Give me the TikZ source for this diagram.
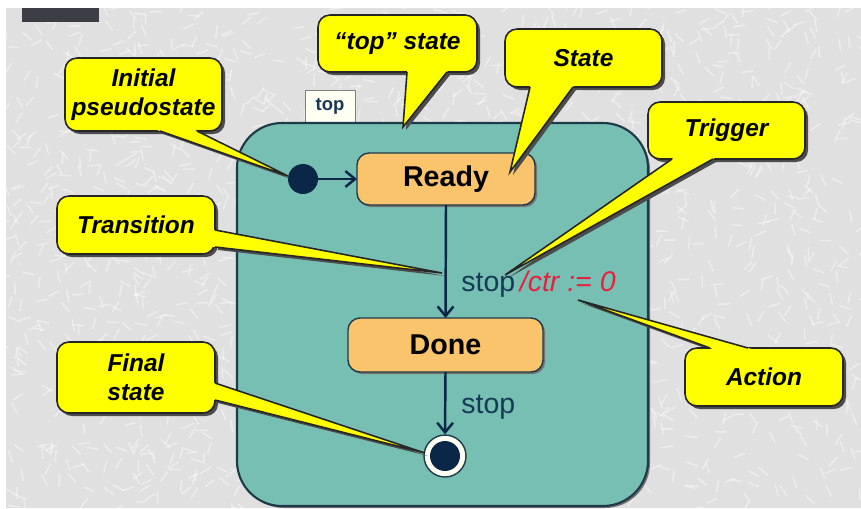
\documentclass[tikz,border=0pt]{standalone}
\usepackage{fontspec}
\setmainfont{Liberation Sans}
\usetikzlibrary{fit,calc,arrows.meta}
\definecolor{bggray}{HTML}{E0E0E0}
\definecolor{tealfill}{HTML}{77BFB3}
\definecolor{tealline}{HTML}{1E3A48}
\definecolor{statefill}{HTML}{FAC46C}
\definecolor{cyellow}{HTML}{FFFF00}
\definecolor{navy}{HTML}{0A2748}
\definecolor{actred}{HTML}{E8203C}
\definecolor{labc}{HTML}{163A55}
\definecolor{tabfill}{HTML}{FFFFF2}
\definecolor{darkbar}{HTML}{3C3D45}
\tikzset{
  cbox/.style={draw=black!85, line width=0.9pt, fill=cyellow, rounded corners=0.24cm, inner sep=0pt, outer sep=0pt},
  cshadow/.style={fill=black!70, rounded corners=0.24cm},
  cshadowtri/.style={fill=black!70},
  cfill/.style={fill=cyellow},
  cline/.style={draw=black!85, line width=0.9pt, line join=miter},
  ctext/.style={font=\fontsize{13.9}{16.4}\selectfont\bfseries\itshape, align=center, inner sep=0pt},
  statebox/.style={draw=tealline, line width=0.8pt, fill=statefill, rounded corners=0.24cm, inner sep=0pt, outer sep=0pt},
  statetext/.style={font=\fontsize{16.3}{19}\selectfont\bfseries, inner sep=0pt},
  trans/.style={draw=navy, line width=1.4pt, -{Straight Barb[length=5.5pt,width=9pt,line width=1.4pt]}},
  lbl/.style={font=\fontsize{16.2}{19}\selectfont, text=labc, inner sep=0pt, anchor=west},
}
% #1 name, #2 SW corner, #3 NE corner, #4 tip, #5 base1, #6 base2, #7 text
\newcommand{\mycallout}[7]{%
  \coordinate (#1sw) at #2; \coordinate (#1ne) at #3;
  \coordinate (#1tip) at #4; \coordinate (#1ba) at #5; \coordinate (#1bb) at #6;
  \fill[cshadowtri] ($(#1tip)+(3,3)$) -- ($(#1ba)+(3,3)$) -- ($(#1bb)+(3,3)$) -- cycle;
  \fill[cshadow] ($(#1sw)+(3,3)$) rectangle ($(#1ne)+(3,3)$);
  \node[cbox, fit=(#1sw)(#1ne)] (#1) {};
  \fill[cfill] (#1tip) -- ($(#1ba)!-4pt!(#1tip)$) -- ($(#1bb)!-4pt!(#1tip)$) -- cycle;
  \draw[cline] (#1ba) -- (#1tip) -- (#1bb);
  \node[ctext] (#1t) at (#1.center) {#7};
}
\begin{document}
\begin{tikzpicture}[x=0.02cm,y=-0.02cm]
\useasboundingbox (0,0) rectangle (861,508);
\fill[white] (0,0) rectangle (861,508);
\fill[bggray] (6,8) rectangle (861,508);
% texture
\pgfmathsetseed{7}
\begin{scope}
\clip (6,8) rectangle (861,508);
\foreach \i in {1,...,1800}{
  \pgfmathsetmacro{\xx}{6+rnd*855}
  \pgfmathsetmacro{\yy}{8+rnd*500}
  \pgfmathsetmacro{\aa}{rnd*360}
  \draw[white, opacity=0.45, line width=0.8pt] (\xx,\yy) -- ++(\aa:12);
}
\end{scope}
\fill[darkbar] (22,8) rectangle (99,22);
% tab and top state
\node[fit={(305,90) (355,123)}, draw=black!50, line width=0.5pt, fill=tabfill, inner sep=0pt, outer sep=0pt] (tab) {};
\node[font=\fontsize{10.5}{12}\selectfont\bfseries, text=labc, inner sep=0pt] (tabt) at (tab.center) {top};
\coordinate (topsw) at (237,506); \coordinate (topne) at (648,123);
\fill[black!55, rounded corners=0.9cm] ($(topsw)+(2,2)$) rectangle ($(topne)+(2,2)$);
\node[fit=(topsw)(topne), draw=tealline, line width=1.2pt, fill=tealfill, rounded corners=0.9cm, inner sep=0pt, outer sep=0pt] (top) {};
% states
\fill[black!55, rounded corners=0.24cm] (359,155) rectangle (537,207);
\node[statebox, fit={(357,153) (535,205)}] (ready) {};
\node[statetext] (readyt) at (ready.center) {Ready};
\fill[black!55, rounded corners=0.24cm] (350,320) rectangle (545,374);
\node[statebox, fit={(348,318) (543,372)}] (done) {};
\node[statetext] (donet) at (done.center) {Done};
% initial and final
\node[circle, fill=navy, minimum size=0.6cm, inner sep=0pt] (init) at (303,179) {};
\node[circle, fill=tabfill, draw=tealline, line width=0.8pt, minimum size=0.84cm, inner sep=0pt] (fin) at (445,456) {};
\node[circle, fill=navy, minimum size=0.6cm, inner sep=0pt] (fincore) at (fin.center) {};
% transitions
\draw[trans] (init) -- (ready.west);
\draw[trans] (ready.south) -- (done.north);
\draw[trans] (done.south) -- (fin.north);
\node[lbl] (l1) at (461,284) {stop\,\textcolor{actred}{\itshape /ctr := 0}};
\node[lbl] (l2) at (461,407) {stop};
% callouts
\mycallout{cInit}{(65,131)}{(222,58)}{(288,176)}{(160,131)}{(197,131)}{Initial\\pseudostate}
\mycallout{cTop}{(318,72)}{(477,15)}{(403,127)}{(407,72)}{(447,72)}{“top” state}
\mycallout{cState}{(505,87)}{(662,29)}{(510,172)}{(530,87)}{(573,87)}{State}
\mycallout{cTrig}{(648,159)}{(805,102)}{(505,275)}{(672,159)}{(713,159)}{Trigger}
\mycallout{cTrans}{(57,254)}{(215,196)}{(442,273)}{(215,230)}{(215,247)}{Transition}
\mycallout{cAct}{(685,406)}{(843,348)}{(578,300)}{(710,348)}{(748,348)}{Action}
\mycallout{cFin}{(57,413)}{(215,342)}{(425,453)}{(215,383)}{(215,400)}{Final\\state}
\end{tikzpicture}
\end{document}
